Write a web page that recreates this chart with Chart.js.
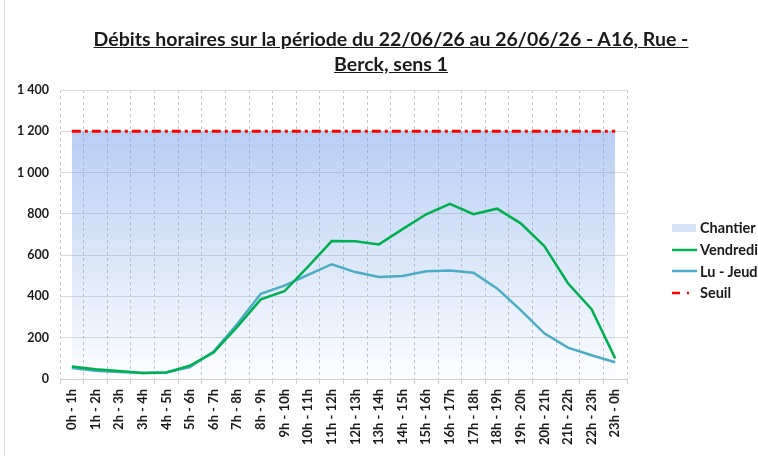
<!DOCTYPE html>
<html>
<head>
<meta charset="utf-8">
<script src="https://cdn.jsdelivr.net/npm/chart.js@4"></script>
<style>
  html, body { margin: 0; padding: 0; background: #fff; overflow: hidden; }
  #wrap { position: relative; width: 758px; height: 456px; overflow: hidden; font-family: Lato, "Noto Sans", sans-serif; }
  #frame { position: absolute; left: 4px; top: 0; bottom: 0; border-left: 1px solid #d9d9d9; }
  #title { position: absolute; top: 26px; left: 0; width: 782px; text-align: center; font-weight: bold; font-size: 19.5px; line-height: 25px; color: #1a1a1a; text-decoration: underline; }
  #legend { position: absolute; left: 672px; top: 217px; font-weight: bold; font-size: 14.5px; color: #1a1a1a; white-space: nowrap; }
  #legend div { height: 21.7px; display: flex; align-items: center; }
  #legend svg { margin-right: 3px; }
  canvas { position: absolute; left: 0; top: 0; }
</style>
</head>
<body>
<div id="wrap">
  <div id="frame"></div>
  <canvas id="chart" width="758" height="456"></canvas>
  <div id="title">Débits horaires sur la période du 22/06/26 au 26/06/26 - A16, Rue -<br>Berck, sens 1</div>
  <div id="legend"></div>
</div>
<script>
const hours = ['0h - 1h','1h - 2h','2h - 3h','3h - 4h','4h - 5h','5h - 6h','6h - 7h','7h - 8h','8h - 9h','9h - 10h','10h - 11h','11h - 12h',
  '12h - 13h','13h - 14h','14h - 15h','15h - 16h','16h - 17h','17h - 18h','18h - 19h','19h - 20h','20h - 21h','21h - 22h','22h - 23h','23h - 0h']

const vendredi = [60,47,39,29,32,65,128,252,386,425,544,668,667,652,726,798,848,798,825,754,644,464,338,100]
const luJeudi = [53,40,34,29,32,58,133,266,413,452,504,556,518,494,499,522,525,515,439,334,221,152,115,81]
const chantier = hours.map(() => 1200)
const seuil = hours.map(() => 1200)

const yTicks = [0,200,400,600,800,1000,1200,1400]

const fmt = v => String(v).replace(/\B(?=(\d{3})+(?!\d))/g, ' ')

const chantierFill = ({chart}) => {
    const {ctx, chartArea, scales} = chart
    if (!chartArea) return 'rgba(100,150,230,0.3)'
    const g = ctx.createLinearGradient(0, scales.y.getPixelForValue(1200), 0, chartArea.bottom)
    g.addColorStop(0, 'rgba(100,150,230,0.46)')
    g.addColorStop(1, 'rgba(100,150,230,0.02)')
    return g
}

new Chart(document.getElementById('chart'), {
    type: 'line',
    data: {
        labels: hours,
        datasets: [
            {label: 'Seuil', data: seuil, borderColor: '#ff0000', borderWidth: 3, borderDash: [9,4,3,4], pointRadius: 0, fill: false, order: 0},
            {label: 'Vendredi', data: vendredi, borderColor: '#00b050', borderWidth: 2.5, pointRadius: 0, fill: false, order: 1},
            {label: 'Lu - Jeudi', data: luJeudi, borderColor: '#4bacc6', borderWidth: 2.5, pointRadius: 0, fill: false, order: 2},
            {label: 'Chantier', data: chantier, borderWidth: 0, borderColor: 'rgba(0,0,0,0)', backgroundColor: chantierFill, pointRadius: 0, fill: 'origin', order: 3}
        ]
    },
    options: {
        responsive: false,
        animation: false,
        layout: {padding: {left: 0, top: 90, right: 131, bottom: 0}},
        plugins: {legend: {display: false}, title: {display: false}, tooltip: {enabled: false}},
        scales: {
            x: {
                offset: true,
                grid: {offset: true, color: '#c8c8c8', borderDash: [3,3], tickLength: 5, tickColor: '#d0d0d0'},
                border: {color: '#d0d0d0', dash: [3,3]},
                ticks: {font: {family: 'Lato', weight: 'bold', size: 13}, color: '#1a1a1a', minRotation: 90, maxRotation: 90, autoSkip: false, padding: 5},
                afterFit: s => { s.height = 77 }
            },
            y: {
                min: 0, max: 1400,
                afterBuildTicks: s => { s.ticks = yTicks.map(value => ({value})) },
                grid: {color: '#dadada', drawTicks: false},
                border: {display: false},
                ticks: {font: {family: 'Lato', weight: 'bold', size: 12.5}, color: '#1a1a1a', padding: 11, callback: fmt},
                afterFit: s => { s.width = 60 }
            }
        }
    }
})

const legendItems = [
    ['Chantier', '<rect x="0" y="4" width="24" height="8" fill="#d6e2f8"/>'],
    ['Vendredi', '<line x1="0" y1="8" x2="25" y2="8" stroke="#00b050" stroke-width="2.5"/>'],
    ['Lu - Jeudi', '<line x1="0" y1="8" x2="25" y2="8" stroke="#4bacc6" stroke-width="2.5"/>'],
    ['Seuil', '<line x1="0" y1="8" x2="25" y2="8" stroke="#ff0000" stroke-width="2.5" stroke-dasharray="8,7,2,20"/>']
]
document.getElementById('legend').innerHTML = legendItems
    .map(([t, s]) => `<div><svg width="25" height="16">${s}</svg>${t}</div>`).join('')
</script>
</body>
</html>
